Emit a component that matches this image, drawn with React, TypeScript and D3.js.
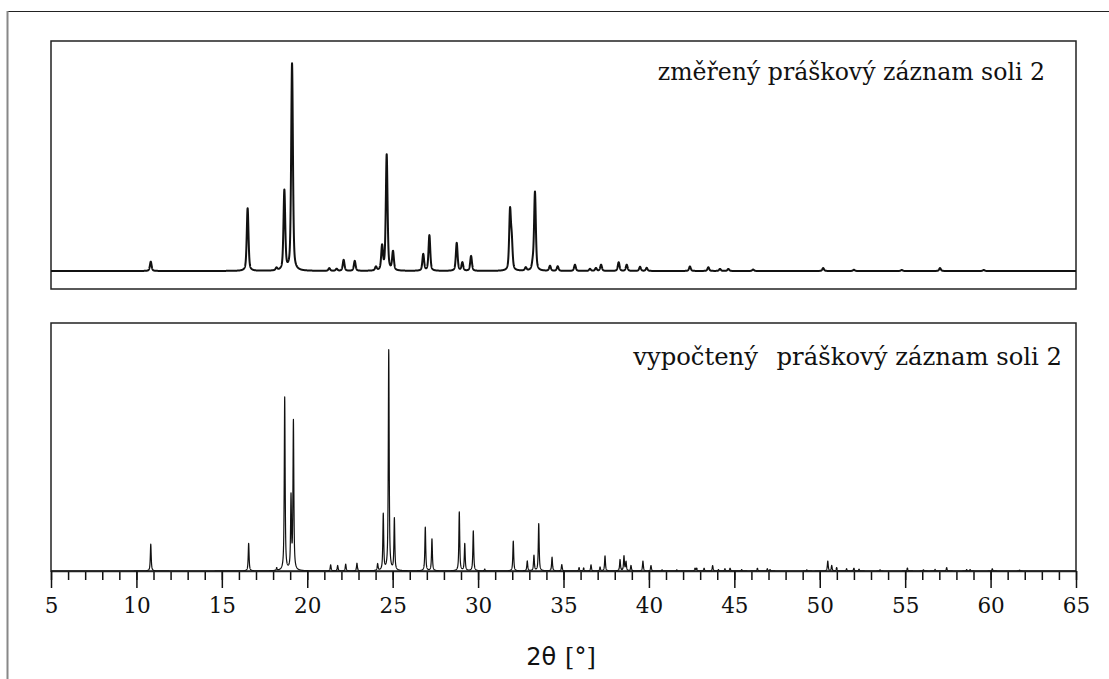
import { axisBottom, line, range, scaleLinear, select } from "d3";
import { useEffect, useRef } from "react";

// measured pattern: peak positions (2theta) and relative heights
const measuredPos = [
  10.84, 16.51, 18.2, 18.66, 19.11, 21.29, 21.72, 22.13, 22.78, 24.02, 24.38,
  24.65, 25.02, 26.79, 27.15, 28.75, 29.08, 29.59, 31.87, 31.97, 32.79, 33.2,
  33.33, 34.21, 34.66, 35.67, 36.55, 36.9, 37.2, 38.23, 38.7, 39.48, 39.87,
  42.4, 43.48, 44.16, 44.65, 46.1, 50.2, 52.0, 54.8, 57.04, 59.6,
];
const measuredInt = [
  4.5, 30.3, 1.2, 38.5, 100, 1.3, 1.0, 5.3, 4.8, 1.8, 11.5, 56, 9.0, 8, 17.2,
  13.5, 4.0, 7.2, 28, 13, 1.5, 3, 38, 2.4, 2.2, 3.0, 1.0, 1.4, 3.0, 4.2, 3.0,
  2.0, 1.5, 2.2, 1.8, 1.0, 1.0, 0.7, 1.4, 0.6, 0.5, 1.4, 0.5,
];

// calculated pattern
const calcPos = [
  10.84, 16.57, 18.21, 18.68, 19.05, 19.19, 21.37, 21.78, 22.25, 22.91, 24.12,
  24.45, 24.77, 25.1, 26.91, 27.3, 28.9, 29.22, 29.72, 30.39, 32.06, 32.88,
  33.27, 33.55, 34.33, 34.9, 35.91, 36.18, 36.61, 37.14, 37.43, 38.31, 38.54,
  38.66, 38.95, 39.65, 40.12, 40.77, 41.63, 42.7, 42.8, 43.23, 43.73, 44.07,
  44.45, 44.75, 45.43, 46.35, 46.93, 47.09, 49.24, 50.47, 50.7, 50.99, 51.57,
  52.0, 52.3, 53.53, 55.13, 56.07, 56.75, 57.43, 58.6, 58.8, 60.1, 61.7,
];
const calcInt = [
  11.9, 12.3, 1.2, 77, 32, 66, 2.7, 2.4, 3, 3.4, 3, 25, 98, 23, 19.4, 14.2,
  26.2, 12, 17.8, 0.8, 13.3, 4.4, 6.8, 21, 6.1, 2.8, 1.5, 1.3, 2.7, 1.7, 6.7,
  5.0, 6.6, 4.0, 2.4, 4.4, 2.4, 0.5, 0.5, 1.2, 1.2, 1.2, 2.4, 0.6, 1, 1.2, 0.6,
  1.2, 1, 0.6, 0.5, 4.4, 2.4, 1.5, 1, 1.2, 0.8, 0.5, 1.3, 0.5, 0.7, 1.5, 0.6,
  0.6, 1, 0.4,
];

const majorTicks = [5, 10, 15, 20, 25, 30, 35, 40, 45, 50, 55, 60, 65];
const minorTicks = range(5, 66, 1);

const topTitle = "změřený práškový záznam soli 2";
const bottomTitleA = "vypočtený";
const bottomTitleB = "práškový záznam soli 2";

const W = 1109;
const H = 679;
const left = 51;
const right = 1076;
const SERIF = "DejaVu Serif";
const SANS = "DejaVu Sans";

// pseudo-voigt profile, for drawing the peak lists
function profile(pos: number[], hts: number[], fwhm: number, eta: number) {
  const pts: [number, number][] = [];
  const g = 4 * Math.log(2);
  for (let t = 5; t <= 65.0001; t += 0.005) {
    let s = 0;
    for (let i = 0; i < pos.length; i++) {
      const d = (t - pos[i]) / fwhm;
      s += hts[i] * (eta / (1 + 4 * d * d) + (1 - eta) * Math.exp(-g * d * d));
    }
    pts.push([t, s]);
  }
  return pts;
}

function App() {
  const svgRef = useRef(null);

  useEffect(() => {
    document.body.style.margin = "0";
    document.body.style.overflow = "hidden";
    if (!svgRef.current) return;
    const svg = select(svgRef.current);
    svg.selectAll("*").remove();

    const x = scaleLinear().domain([5, 65]).range([left, right]);
    const yTop = scaleLinear().domain([-8.7, 111.1]).range([289, 41]);
    const yBot = scaleLinear().domain([0, 110.2]).range([571, 323]);

    // outer frame
    svg.append("line").attr("x1", 7).attr("x2", W).attr("y1", 11.5).attr("y2", 11.5)
      .attr("stroke", "#222").attr("stroke-width", 1);
    svg.append("line").attr("x1", 7.5).attr("x2", 7.5).attr("y1", 11).attr("y2", H)
      .attr("stroke", "#888").attr("stroke-width", 2);

    // measured panel
    svg.append("rect").attr("x", left).attr("y", 41).attr("width", right - left).attr("height", 248)
      .attr("fill", "none").attr("stroke", "#222").attr("stroke-width", 1.5);
    const mLine = line<[number, number]>().x((d) => x(d[0])).y((d) => yTop(d[1]));
    svg.append("path").datum(profile(measuredPos, measuredInt, 0.12, 0.5))
      .attr("d", mLine).attr("fill", "none").attr("stroke", "#111")
      .attr("stroke-width", 2).attr("stroke-linejoin", "round");
    svg.append("text").attr("x", 1045).attr("y", 80).attr("text-anchor", "end")
      .attr("font-family", SERIF).attr("font-size", 23.6).attr("fill", "#111")
      .text(topTitle);

    // calculated panel
    svg.append("rect").attr("x", left).attr("y", 323).attr("width", right - left).attr("height", 248)
      .attr("fill", "none").attr("stroke", "#222").attr("stroke-width", 1.5);
    const cLine = line<[number, number]>().x((d) => x(d[0])).y((d) => yBot(d[1]));
    svg.append("path").datum(profile(calcPos, calcInt, 0.06, 0.8))
      .attr("d", cLine).attr("fill", "none").attr("stroke", "#111")
      .attr("stroke-width", 1.2).attr("stroke-linejoin", "round");
    svg.append("text").attr("x", 758).attr("y", 365).attr("text-anchor", "end")
      .attr("font-family", SERIF).attr("font-size", 24.3).attr("fill", "#111")
      .text(bottomTitleA);
    svg.append("text").attr("x", 1062).attr("y", 365).attr("text-anchor", "end")
      .attr("font-family", SERIF).attr("font-size", 24.3).attr("fill", "#111")
      .text(bottomTitleB);

    // x axis
    const minor = svg.append("g").attr("transform", "translate(0,571)")
      .call(axisBottom(x).tickValues(minorTicks).tickSize(9).tickSizeOuter(0).tickFormat(() => ""));
    minor.select(".domain").remove();
    const major = svg.append("g").attr("transform", "translate(0,571)")
      .call(axisBottom(x).tickValues(majorTicks).tickSize(17).tickSizeOuter(0).tickPadding(8));
    svg.selectAll(".tick line").attr("stroke", "#111").attr("stroke-width", 1.5);
    major.select(".domain").attr("stroke", "#222").attr("stroke-width", 1.5);
    major.attr("font-family", SERIF).attr("font-size", 21.5);
    major.selectAll("text").attr("fill", "#111").attr("dy", "0.8em");

    const lab = svg.append("text").attr("x", 561).attr("y", 665).attr("text-anchor", "middle")
      .attr("fill", "#111");
    lab.append("tspan").attr("font-family", SANS).attr("font-size", 24).text("2θ");
    lab.append("tspan").attr("font-family", SERIF).attr("font-size", 24).attr("dx", 9).text("[°]");
  }, []);

  return (
    <div>
      <svg ref={svgRef} width={W} height={H} style={{ display: "block", background: "#fff" }}></svg>
    </div>
  );
}

export default App;
